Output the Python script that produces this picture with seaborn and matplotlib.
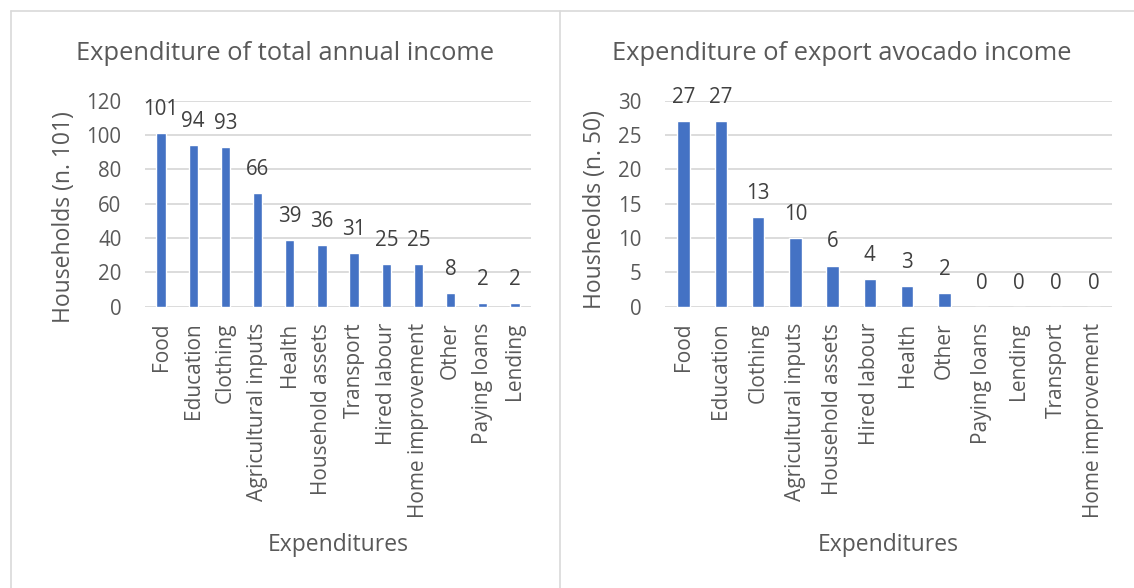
import matplotlib
matplotlib.use("Agg")
import matplotlib.pyplot as plt
from matplotlib.lines import Line2D
import pandas as pd
import seaborn as sns

# Households reporting each use of their total annual income (n = 101)
total_categories = ["Food", "Education", "Clothing", "Agricultural inputs", "Health",
                    "Household assets", "Transport", "Hired labour", "Home improvement",
                    "Other", "Paying loans", "Lending"]
total_households = [101, 94, 93, 66, 39, 36, 31, 25, 25, 8, 2, 2]

# Households reporting each use of their export avocado income (n = 50)
avocado_categories = ["Food", "Education", "Clothing", "Agricultural inputs",
                      "Household assets", "Hired labour", "Health", "Other",
                      "Paying loans", "Lending", "Transport", "Home improvement"]
avocado_households = [27, 27, 13, 10, 6, 4, 3, 2, 0, 0, 0, 0]

total_yticks = [0, 20, 40, 60, 80, 100, 120]
avocado_yticks = [0, 5, 10, 15, 20, 25, 30]

BAR = "#4472C4"
GRID = "#D9D9D9"
TEXT = "#595959"
VALUE = "#404040"

sns.set_style("white")
plt.rcParams["font.family"] = ["Open Sans", "DejaVu Sans"]

W, H = 1134, 588
fig = plt.figure(figsize=(W / 100, H / 100), dpi=100)


def px_axes(x0, x1, y_top, y_bot):
    return fig.add_axes([x0 / W, 1 - y_bot / H, (x1 - x0) / W, (y_bot - y_top) / H])


def panel(ax, cats, vals, yticks, bar_width, title, title_x, ylabel, ylabel_x, ylabel_y):
    df = pd.DataFrame({"Expenditures": cats, "Households": vals})
    sns.barplot(data=df, x="Expenditures", y="Households", order=cats,
                color=BAR, saturation=1, width=bar_width, ax=ax)
    ax.set_ylim(yticks[0], yticks[-1])
    ax.set_yticks(yticks)
    ax.set_xlim(-0.5, len(cats) - 0.5)
    ax.yaxis.grid(True, color=GRID, linewidth=1.3)
    ax.set_axisbelow(True)
    for s in ax.spines.values():
        s.set_visible(False)
    ax.tick_params(axis="y", length=0, pad=17, labelsize=14.8, labelcolor=TEXT)
    ax.tick_params(axis="x", length=0, pad=11.5, labelsize=15, labelcolor=TEXT,
                   labelrotation=90)
    ax.bar_label(ax.containers[0], labels=[str(v) for v in vals], padding=9.4,
                 fontsize=14.8, color=VALUE)
    ax.set_xlabel("Expenditures", fontsize=16.5, color=TEXT)
    ax.xaxis.set_label_coords(0.5, -1.10)
    ax.set_ylabel(ylabel, fontsize=16.5, color=TEXT)
    ax.yaxis.set_label_coords(ylabel_x, ylabel_y)
    fig.text(title_x / W, 1 - 60 / H, title, ha="center", va="baseline",
             fontsize=18.4, color=TEXT)


ax1 = px_axes(145, 531, 100.7, 306.7)
panel(ax1, total_categories, total_households, total_yticks, 0.29,
      "Expenditure of total annual income", 285,
      "Households (n. 101)", -0.178, 0.435)

ax2 = px_axes(665, 1112, 100.7, 306.7)
panel(ax2, avocado_categories, avocado_households, avocado_yticks, 0.33,
      "Expenditure of export avocado income", 842,
      "Housheolds (n. 50)", -0.13, 0.47)

# Chart-area frames around each panel
for xs, ys in [((11, W), (11, 11)), ((11, 11), (11, H)), ((560, 560), (11, H))]:
    fig.add_artist(Line2D([x / W for x in xs], [1 - y / H for y in ys],
                          transform=fig.transFigure, color=GRID, linewidth=1.2))

fig.savefig("out.png", dpi=100, facecolor="white")
